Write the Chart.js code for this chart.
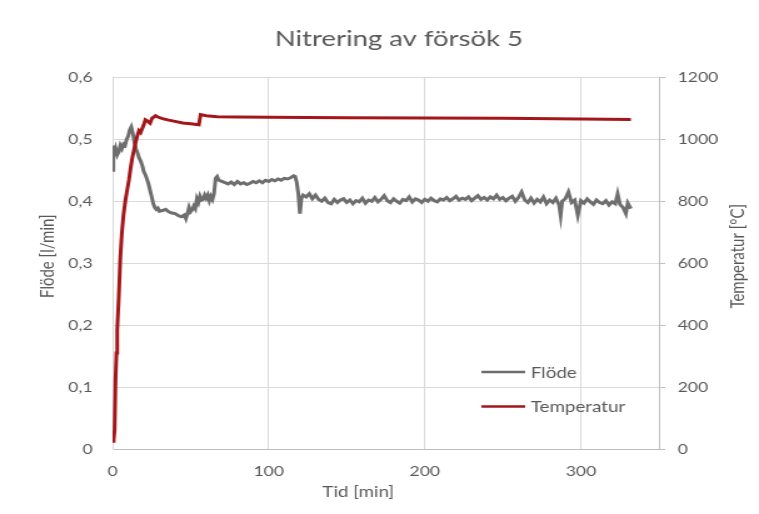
<!DOCTYPE html>
<html>
<head>
<meta charset="utf-8">
<title>Nitrering av försök 5</title>
<script src="https://cdn.jsdelivr.net/npm/chart.js@4.4.1/dist/chart.umd.min.js"></script>
<style>
    html, body { margin: 0; padding: 0; background: #ffffff; }
    #nitrering { display: block; }
</style>
</head>
<body>
<!-- canvas is drawn narrow and widened by CSS (Excel export look) -->
<canvas id="nitrering" width="607" height="514" style="width:759px;height:514px"></canvas>
<script>
// --- Mätdata: flöde [l/min] ---
const flodeTid = [
    0, 0.5, 1, 1.5, 2, 3, 4, 5, 6, 7, 8, 9, 10, 11, 12, 13, 14, 15, 16, 17, 18, 19, 20,
    21, 22, 23, 24, 25, 26, 27, 28, 29, 30, 32, 34, 36, 38, 40, 42, 44, 46, 47, 48, 49,
    50, 51, 52, 53, 54, 55, 56, 57, 58, 59, 60, 61, 62, 63, 64, 65, 66, 67, 68, 70, 72,
    74, 76, 78, 80, 82, 84, 86, 88, 90, 92, 94, 96, 98, 100, 102, 104, 106, 108, 110,
    112, 114, 116, 117, 118, 119, 120, 121, 122, 124, 126, 128, 130, 132, 134, 136,
    138, 140, 142, 144, 146, 148, 150, 152, 154, 156, 158, 160, 162, 164, 166, 168,
    170, 172, 174, 176, 178, 180, 182, 184, 186, 188, 190, 192, 194, 196, 198, 200,
    202, 204, 206, 208, 210, 212, 214, 216, 218, 220, 222, 224, 226, 228, 230, 232,
    234, 236, 238, 240, 242, 244, 246, 248, 250, 252, 254, 256, 258, 260, 262, 264,
    266, 268, 270, 272, 274, 276, 278, 280, 282, 284, 286, 287, 288, 290, 292, 294,
    296, 298, 300, 302, 304, 306, 308, 310, 312, 314, 316, 318, 320, 322, 323.5, 325,
    327, 328.8, 330, 332
];
const flodeVarde = [
    0.45, 0.47, 0.49, 0.48, 0.485, 0.475, 0.48, 0.49, 0.485, 0.492, 0.49, 0.5, 0.505,
    0.515, 0.52, 0.51, 0.495, 0.485, 0.478, 0.47, 0.465, 0.458, 0.448, 0.443, 0.436,
    0.428, 0.418, 0.408, 0.397, 0.39, 0.387, 0.389, 0.384, 0.385, 0.387, 0.383, 0.381,
    0.38, 0.377, 0.375, 0.378, 0.372, 0.38, 0.39, 0.383, 0.386, 0.392, 0.388, 0.404,
    0.398, 0.408, 0.402, 0.403, 0.41, 0.405, 0.41, 0.401, 0.408, 0.403, 0.412, 0.437,
    0.44, 0.434, 0.432, 0.43, 0.428, 0.431, 0.427, 0.432, 0.428, 0.43, 0.427, 0.429,
    0.432, 0.43, 0.433, 0.43, 0.434, 0.432, 0.435, 0.433, 0.436, 0.434, 0.437, 0.436,
    0.438, 0.441, 0.44, 0.43, 0.412, 0.38, 0.405, 0.41, 0.407, 0.412, 0.404, 0.41,
    0.403, 0.4, 0.405, 0.398, 0.396, 0.403, 0.398, 0.402, 0.404, 0.398, 0.402, 0.396,
    0.401, 0.399, 0.405, 0.397, 0.402, 0.4, 0.406, 0.399, 0.403, 0.409, 0.401, 0.398,
    0.404, 0.4, 0.397, 0.403, 0.401, 0.407, 0.399, 0.404, 0.402, 0.398, 0.403, 0.4,
    0.405, 0.401, 0.399, 0.404, 0.402, 0.406, 0.401, 0.404, 0.408, 0.402, 0.405, 0.403,
    0.407, 0.401, 0.405, 0.409, 0.403, 0.406, 0.402, 0.407, 0.404, 0.41, 0.403, 0.406,
    0.401, 0.405, 0.408, 0.4, 0.406, 0.415, 0.402, 0.398, 0.405, 0.397, 0.403, 0.399,
    0.407, 0.396, 0.402, 0.398, 0.405, 0.394, 0.377, 0.4, 0.404, 0.415, 0.398, 0.402,
    0.377, 0.401, 0.397, 0.404, 0.399, 0.395, 0.402, 0.398, 0.396, 0.401, 0.394, 0.399,
    0.396, 0.412, 0.395, 0.39, 0.38, 0.397, 0.388
];

// --- Mätdata: temperatur [°C] ---
const tempTid = [
    0, 0.7, 1.3, 1.9, 2.5, 3, 4, 5, 6, 7, 8.3, 9.5, 10.5, 11.5, 12.6, 13.7, 14.7, 15.8,
    16.9, 18, 19, 20, 21, 22, 23, 24, 25.4, 26.5, 27.5, 29, 32, 36, 40, 45, 50, 55.3,
    56.4, 60, 67, 80, 100, 150, 200, 250, 300, 332
];
const tempVarde = [
    25, 30, 61, 223, 310, 385, 492, 620, 700, 755, 805, 840, 869, 905, 939, 965, 988,
    1010, 1028, 1022, 1035, 1047, 1063, 1060, 1056, 1052, 1069, 1072, 1076, 1072, 1067,
    1062, 1058, 1053, 1050, 1047, 1080, 1076, 1073, 1072, 1071, 1070, 1069, 1068, 1066,
    1064
];

// --- Axlar ---
const tidTicks = [0, 100, 200, 300];
const flodeTicks = [0, 0.1, 0.2, 0.3, 0.4, 0.5, 0.6];
const tempTicks = [0, 200, 400, 600, 800, 1000, 1200];

const textColor = '#595959';
const gridColor = '#d9d9d9';

Chart.defaults.font.family = 'Lato';
Chart.defaults.color = textColor;

// axis titles and the legend sit inside / around the plot like in Excel
const excelText = {
    id: 'excelText',
    afterDraw(chart) {
        const { ctx, chartArea: a } = chart;
        ctx.save();
        ctx.fillStyle = textColor;
        ctx.font = '15px Lato';
        ctx.textBaseline = 'middle';
        ctx.textAlign = 'center';

        ctx.fillText('Tid [min]', (a.left + a.right) / 2 - 22, chart.height - 22);

        ctx.save();
        ctx.translate(a.left - 52, (a.top + a.bottom) / 2 - 7);
        ctx.rotate(-Math.PI / 2);
        ctx.fillText('Flöde [l/min]', 0, 0);
        ctx.restore();

        ctx.save();
        ctx.translate(a.right + 63, (a.top + a.bottom) / 2 - 7);
        ctx.rotate(-Math.PI / 2);
        ctx.fillText('Temperatur [°C]', 0, 0);
        ctx.restore();

        // legend
        ctx.textAlign = 'left';
        chart.data.datasets.forEach((ds, i) => {
            const y = a.bottom - 77 + i * 34.5;
            ctx.strokeStyle = ds.borderColor;
            ctx.lineWidth = 2.5;
            ctx.beginPath();
            ctx.moveTo(a.right - 142, y);
            ctx.lineTo(a.right - 107, y);
            ctx.stroke();
            ctx.fillText(ds.label, a.right - 102.5, y + 1);
        });
        ctx.restore();
    }
};

const fixedTicks = list => scale => { scale.ticks = list.map(v => ({ value: v })); };

new Chart(document.getElementById('nitrering'), {
    type: 'line',
    data: {
        datasets: [
            {
                label: 'Flöde',
                data: flodeTid.map((t, i) => ({ x: t, y: flodeVarde[i] })),
                borderColor: '#6e6e6e',
                borderWidth: 3,
                pointRadius: 0,
                tension: 0,
                yAxisID: 'y',
                order: 1
            },
            {
                label: 'Temperatur',
                data: tempTid.map((t, i) => ({ x: t, y: tempVarde[i] })),
                borderColor: '#a3161a',
                borderWidth: 3,
                pointRadius: 0,
                tension: 0,
                yAxisID: 'y1',
                order: 0
            }
        ]
    },
    options: {
        responsive: false,
        animation: false,
        events: [],
        layout: { padding: { left: 31, right: 0, top: 0, bottom: 0 } },
        plugins: {
            legend: { display: false },
            tooltip: { enabled: false },
            title: {
                display: true,
                text: 'Nitrering av försök 5',
                color: textColor,
                font: { size: 22, weight: 'normal' },
                padding: { top: 26, bottom: 25 }
            }
        },
        scales: {
            x: {
                type: 'linear',
                min: 0,
                max: 350,
                afterBuildTicks: fixedTicks(tidTicks),
                afterFit: s => { s.height = 65; },
                grid: { color: gridColor, drawTicks: false },
                border: { color: '#bfbfbf' },
                ticks: { padding: 14, font: { size: 14 }, maxRotation: 0, callback: v => String(v) }
            },
            y: {
                position: 'left',
                min: 0,
                max: 0.6,
                afterBuildTicks: fixedTicks(flodeTicks),
                afterFit: s => { s.width = 59; },
                grid: { color: gridColor, drawTicks: false },
                border: { color: gridColor },
                ticks: {
                    padding: 16,
                    font: { size: 14 },
                    callback: v => v === 0 ? '0' : v.toFixed(1).replace('.', ',')
                }
            },
            y1: {
                position: 'right',
                min: 0,
                max: 1200,
                afterBuildTicks: fixedTicks(tempTicks),
                afterFit: s => { s.width = 80; },
                grid: { drawOnChartArea: false, color: '#bfbfbf', tickLength: 5 },
                border: { color: '#bfbfbf' },
                ticks: { padding: 10, font: { size: 14 }, callback: v => String(v) }
            }
        }
    },
    plugins: [excelText]
});
</script>
</body>
</html>
